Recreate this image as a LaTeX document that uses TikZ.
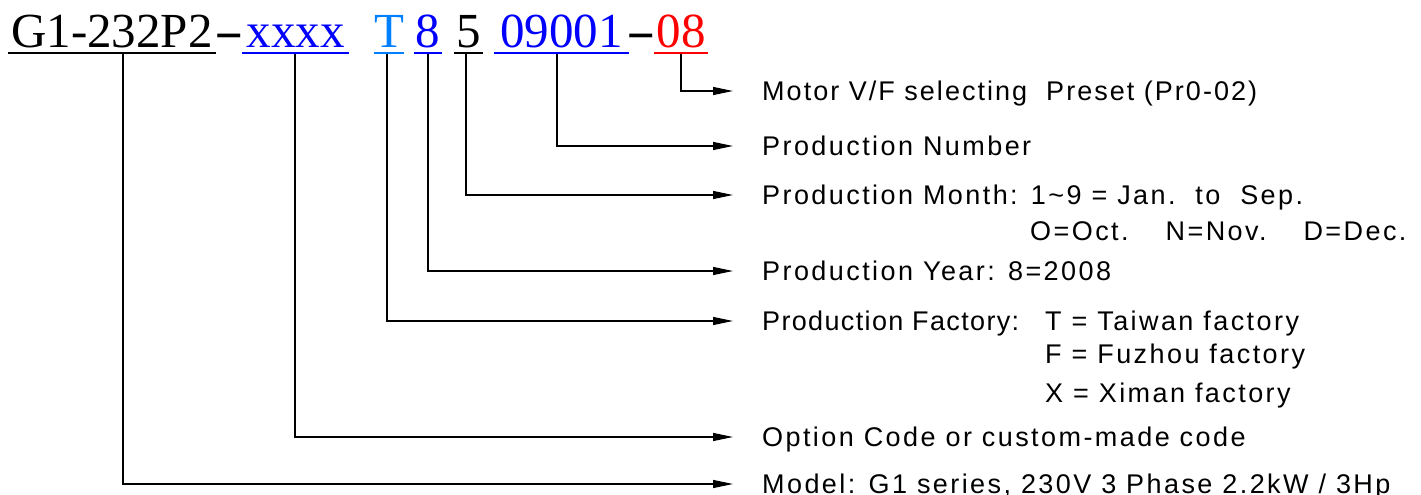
\documentclass[tikz,border=0pt]{standalone}
\usepackage{fontspec}
\setmainfont{Liberation Sans}
\newfontfamily\codefont{Liberation Serif}
\newfontfamily\descfont{Liberation Sans}[LetterSpace=9]
\usetikzlibrary{arrows.meta}
\definecolor{codeblue}{RGB}{0,0,255}
\definecolor{codesky}{RGB}{0,128,255}
\definecolor{codered}{RGB}{255,0,0}

\begin{document}
\begin{tikzpicture}[x=1pt,y=1pt,
    code/.style={font=\codefont\fontsize{49}{55}\selectfont, inner sep=0pt, anchor=base},
    desc/.style={font=\descfont\fontsize{27}{31}\selectfont, inner sep=0pt, anchor=base west},
    uline/.style={line width=2.5pt},
    conn/.style={line width=1.2pt, -{Triangle[length=20pt,width=8pt]}}]
  \useasboundingbox (0,0) rectangle (1421,-495);

  % the type code
  \node[code, minimum width=208pt] (cModel) at (112,-48) {G1-232P2};
  \node[code] (dashA) at (229,-48) {\scalebox{1.8}[1]{-}};
  \node[code, minimum width=107pt, text=codeblue] (cOption) at (295.5,-48) {xxxx};
  \node[code, minimum width=28pt, text=codesky] (cFactory) at (389,-48) {T};
  \node[code, minimum width=28pt, text=codeblue] (cYear) at (428,-48) {8};
  \node[code, minimum width=29pt] (cMonth) at (468.5,-48) {5};
  \node[code, minimum width=135pt, text=codeblue] (cNumber) at (561.5,-48) {09001};
  \node[code] (dashB) at (641.5,-48) {\scalebox{1.8}[1]{-}};
  \node[code, minimum width=54pt, text=codered] (cMotor) at (681,-48) {08};

  \foreach \n/\c in {Model/black, Option/codeblue, Factory/codesky, Year/codeblue,
                     Month/black, Number/codeblue, Motor/codered}{
    \draw[uline, \c] ([yshift=-5pt]c\n.base west) -- ([yshift=-5pt]c\n.base east);
  }

  % descriptions
  \node[desc] (tMotor) at (762,-100) {\addfontfeature{LetterSpace=7.5}Motor V/F selecting\ \ Preset (Pr0-02)};
  \node[desc] (tNumber) at (762,-155) {Production Number};
  \node[desc] (tMonth) at (762,-204) {Production Month: 1\textasciitilde9 = Jan.\ \ to\ \ Sep.};
  \node[desc] (tMonthB) at (1030,-240) {O=Oct.\hspace{37pt}N=Nov.\hspace{37pt}D=Dec.};
  \node[desc] (tYear) at (762,-280) {Production Year: 8=2008};
  \node[desc] (tFactory) at (762,-330) {\addfontfeature{LetterSpace=5}Production Factory:};
  \node[desc] (tFacT) at (1045,-330) {T = Taiwan factory};
  \node[desc] (tFacF) at (1045,-363) {F = Fuzhou factory};
  \node[desc] (tFacX) at (1045,-402) {X = Ximan factory};
  \node[desc] (tOption) at (762,-446) {Option Code or custom-made code};
  \node[desc] (tModel) at (762,-493) {Model: G1 series, 230V 3 Phase 2.2kW / 3Hp};

  % connectors
  \foreach \x/\n in {123/Model, 295/Option, 387/Factory, 428/Year,
                     466/Month, 557/Number, 681/Motor}{
    \coordinate (v\n) at (\x,-54);
    \draw[conn] (v\n) |- ([shift={(-29pt,9pt)}]t\n.base west);
  }
\end{tikzpicture}
\end{document}
